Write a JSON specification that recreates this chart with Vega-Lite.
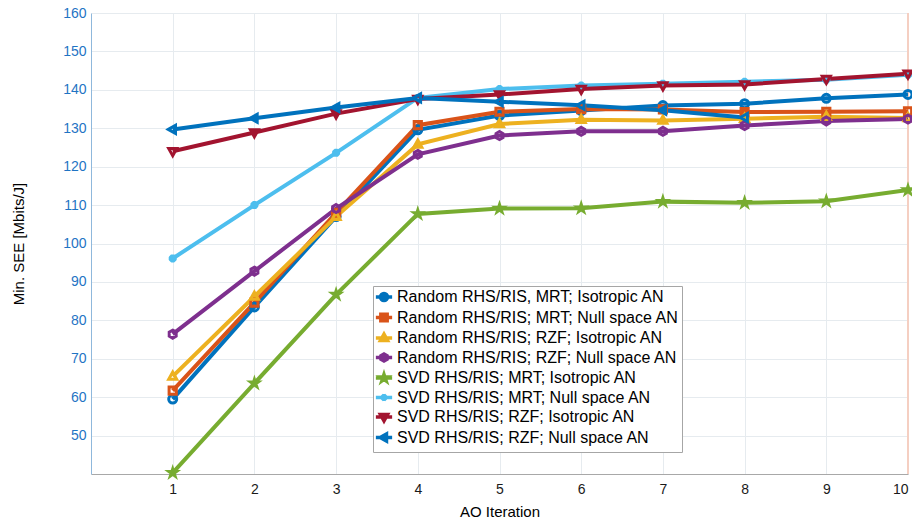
{
  "$schema": "https://vega.github.io/schema/vega-lite/v6.json",
  "width": 817,
  "height": 461,
  "autosize": {"type": "none"},
  "padding": {"left": 91, "top": 13, "right": 4, "bottom": 50},
  "background": "white",
  "config": {
    "view": {"stroke": null},
    "font": "Liberation Sans",
    "axis": {"labelFont": "Liberation Sans", "titleFont": "Liberation Sans", "titleFontWeight": "normal"},
    "legend": {"labelFont": "Liberation Sans"}
  },
  "datasets": {
    "d": [
      {"s": "Random RHS/RIS, MRT; Isotropic AN", "x": 1, "y": 59.5},
      {"s": "Random RHS/RIS, MRT; Isotropic AN", "x": 2, "y": 83.5},
      {"s": "Random RHS/RIS, MRT; Isotropic AN", "x": 3, "y": 107.0},
      {"s": "Random RHS/RIS, MRT; Isotropic AN", "x": 4, "y": 129.6},
      {"s": "Random RHS/RIS, MRT; Isotropic AN", "x": 5, "y": 133.3},
      {"s": "Random RHS/RIS, MRT; Isotropic AN", "x": 6, "y": 134.6},
      {"s": "Random RHS/RIS, MRT; Isotropic AN", "x": 7, "y": 135.9},
      {"s": "Random RHS/RIS, MRT; Isotropic AN", "x": 8, "y": 136.4},
      {"s": "Random RHS/RIS, MRT; Isotropic AN", "x": 9, "y": 137.8},
      {"s": "Random RHS/RIS, MRT; Isotropic AN", "x": 10, "y": 138.8},
      {"s": "Random RHS/RIS; MRT; Null space AN", "x": 1, "y": 61.7},
      {"s": "Random RHS/RIS; MRT; Null space AN", "x": 2, "y": 84.6},
      {"s": "Random RHS/RIS; MRT; Null space AN", "x": 3, "y": 108.0},
      {"s": "Random RHS/RIS; MRT; Null space AN", "x": 4, "y": 130.8},
      {"s": "Random RHS/RIS; MRT; Null space AN", "x": 5, "y": 134.3},
      {"s": "Random RHS/RIS; MRT; Null space AN", "x": 6, "y": 135.0},
      {"s": "Random RHS/RIS; MRT; Null space AN", "x": 7, "y": 134.9},
      {"s": "Random RHS/RIS; MRT; Null space AN", "x": 8, "y": 134.2},
      {"s": "Random RHS/RIS; MRT; Null space AN", "x": 9, "y": 134.3},
      {"s": "Random RHS/RIS; MRT; Null space AN", "x": 10, "y": 134.4},
      {"s": "Random RHS/RIS; RZF; Isotropic AN", "x": 1, "y": 65.4},
      {"s": "Random RHS/RIS; RZF; Isotropic AN", "x": 2, "y": 86.2},
      {"s": "Random RHS/RIS; RZF; Isotropic AN", "x": 3, "y": 107.0},
      {"s": "Random RHS/RIS; RZF; Isotropic AN", "x": 4, "y": 125.8},
      {"s": "Random RHS/RIS; RZF; Isotropic AN", "x": 5, "y": 131.1},
      {"s": "Random RHS/RIS; RZF; Isotropic AN", "x": 6, "y": 132.2},
      {"s": "Random RHS/RIS; RZF; Isotropic AN", "x": 7, "y": 132.0},
      {"s": "Random RHS/RIS; RZF; Isotropic AN", "x": 8, "y": 132.5},
      {"s": "Random RHS/RIS; RZF; Isotropic AN", "x": 9, "y": 133.0},
      {"s": "Random RHS/RIS; RZF; Isotropic AN", "x": 10, "y": 132.7},
      {"s": "Random RHS/RIS; RZF; Null space AN", "x": 1, "y": 76.4},
      {"s": "Random RHS/RIS; RZF; Null space AN", "x": 2, "y": 92.8},
      {"s": "Random RHS/RIS; RZF; Null space AN", "x": 3, "y": 109.1},
      {"s": "Random RHS/RIS; RZF; Null space AN", "x": 4, "y": 123.2},
      {"s": "Random RHS/RIS; RZF; Null space AN", "x": 5, "y": 128.1},
      {"s": "Random RHS/RIS; RZF; Null space AN", "x": 6, "y": 129.2},
      {"s": "Random RHS/RIS; RZF; Null space AN", "x": 7, "y": 129.2},
      {"s": "Random RHS/RIS; RZF; Null space AN", "x": 8, "y": 130.7},
      {"s": "Random RHS/RIS; RZF; Null space AN", "x": 9, "y": 131.9},
      {"s": "Random RHS/RIS; RZF; Null space AN", "x": 10, "y": 132.4},
      {"s": "SVD RHS/RIS; MRT; Isotropic AN", "x": 1, "y": 40.3},
      {"s": "SVD RHS/RIS; MRT; Isotropic AN", "x": 2, "y": 63.6},
      {"s": "SVD RHS/RIS; MRT; Isotropic AN", "x": 3, "y": 86.7},
      {"s": "SVD RHS/RIS; MRT; Isotropic AN", "x": 4, "y": 107.7},
      {"s": "SVD RHS/RIS; MRT; Isotropic AN", "x": 5, "y": 109.1},
      {"s": "SVD RHS/RIS; MRT; Isotropic AN", "x": 6, "y": 109.2},
      {"s": "SVD RHS/RIS; MRT; Isotropic AN", "x": 7, "y": 110.9},
      {"s": "SVD RHS/RIS; MRT; Isotropic AN", "x": 8, "y": 110.6},
      {"s": "SVD RHS/RIS; MRT; Isotropic AN", "x": 9, "y": 111.0},
      {"s": "SVD RHS/RIS; MRT; Isotropic AN", "x": 10, "y": 113.9},
      {"s": "SVD RHS/RIS; MRT; Null space AN", "x": 1, "y": 96.1},
      {"s": "SVD RHS/RIS; MRT; Null space AN", "x": 2, "y": 110.0},
      {"s": "SVD RHS/RIS; MRT; Null space AN", "x": 3, "y": 123.6},
      {"s": "SVD RHS/RIS; MRT; Null space AN", "x": 4, "y": 137.9},
      {"s": "SVD RHS/RIS; MRT; Null space AN", "x": 5, "y": 140.2},
      {"s": "SVD RHS/RIS; MRT; Null space AN", "x": 6, "y": 141.1},
      {"s": "SVD RHS/RIS; MRT; Null space AN", "x": 7, "y": 141.6},
      {"s": "SVD RHS/RIS; MRT; Null space AN", "x": 8, "y": 142.1},
      {"s": "SVD RHS/RIS; MRT; Null space AN", "x": 9, "y": 142.6},
      {"s": "SVD RHS/RIS; MRT; Null space AN", "x": 10, "y": 143.9},
      {"s": "SVD RHS/RIS; RZF; Isotropic AN", "x": 1, "y": 124.0},
      {"s": "SVD RHS/RIS; RZF; Isotropic AN", "x": 2, "y": 128.9},
      {"s": "SVD RHS/RIS; RZF; Isotropic AN", "x": 3, "y": 133.8},
      {"s": "SVD RHS/RIS; RZF; Isotropic AN", "x": 4, "y": 137.6},
      {"s": "SVD RHS/RIS; RZF; Isotropic AN", "x": 5, "y": 138.8},
      {"s": "SVD RHS/RIS; RZF; Isotropic AN", "x": 6, "y": 140.2},
      {"s": "SVD RHS/RIS; RZF; Isotropic AN", "x": 7, "y": 141.1},
      {"s": "SVD RHS/RIS; RZF; Isotropic AN", "x": 8, "y": 141.4},
      {"s": "SVD RHS/RIS; RZF; Isotropic AN", "x": 9, "y": 142.8},
      {"s": "SVD RHS/RIS; RZF; Isotropic AN", "x": 10, "y": 144.2},
      {"s": "SVD RHS/RIS; RZF; Null space AN", "x": 1, "y": 129.7},
      {"s": "SVD RHS/RIS; RZF; Null space AN", "x": 2, "y": 132.6},
      {"s": "SVD RHS/RIS; RZF; Null space AN", "x": 3, "y": 135.4},
      {"s": "SVD RHS/RIS; RZF; Null space AN", "x": 4, "y": 137.9},
      {"s": "SVD RHS/RIS; RZF; Null space AN", "x": 5, "y": 136.9},
      {"s": "SVD RHS/RIS; RZF; Null space AN", "x": 6, "y": 136.0},
      {"s": "SVD RHS/RIS; RZF; Null space AN", "x": 7, "y": 134.7},
      {"s": "SVD RHS/RIS; RZF; Null space AN", "x": 8, "y": 132.8}
    ]
  },
  "data": {"name": "d"},
  "resolve": {"scale": {"color": "independent", "shape": "independent"}},
  "layer": [
    {
      "mark": {"type": "rule", "color": "#f5cfc2", "strokeWidth": 2},
      "encoding": {"x": {"datum": 10, "type": "quantitative", "scale": {"domain": [0, 10]}}}
    },
    {
      "mark": {"type": "line", "strokeWidth": 4, "clip": true},
      "encoding": {
        "x": {
          "field": "x", "type": "quantitative",
          "scale": {"domain": [0, 10], "nice": false, "zero": false},
          "axis": {
            "title": "AO Iteration", "titleFontSize": 15, "titleColor": "#000000",
            "titleBaseline": "middle", "titleY": 37,
            "values": [1, 2, 3, 4, 5, 6, 7, 8, 9, 10], "format": "d",
            "labelFontSize": 14, "labelColor": "#1a1a1a", "labelPadding": 8, "tickSize": 0, "ticks": false,
            "domainColor": "#a8a8a8", "domainWidth": 1,
            "grid": true, "gridColor": "#e6ebef", "gridWidth": 1
          }
        },
        "y": {
          "field": "y", "type": "quantitative",
          "scale": {"domain": [40, 160], "nice": false, "zero": false},
          "axis": {
            "title": "Min. SEE [Mbits/J]", "titleFontSize": 15, "titleColor": "#000000",
            "titleX": -73, "titleY": 230.5, "titleAlign": "center", "titleBaseline": "middle", "titleAngle": -90,
            "values": [50, 60, 70, 80, 90, 100, 110, 120, 130, 140, 150, 160], "format": "d",
            "labelFontSize": 14, "labelColor": "#1f74c4", "labelPadding": 5, "tickSize": 0, "ticks": false,
            "domainColor": "#8fb8dc", "domainWidth": 1,
            "grid": true, "gridColor": "#e6ebef", "gridWidth": 1
          }
        },
        "color": {
          "field": "s", "type": "nominal", "legend": null,
          "scale": {
            "domain": ["Random RHS/RIS, MRT; Isotropic AN", "Random RHS/RIS; MRT; Null space AN", "Random RHS/RIS; RZF; Isotropic AN", "Random RHS/RIS; RZF; Null space AN", "SVD RHS/RIS; MRT; Isotropic AN", "SVD RHS/RIS; MRT; Null space AN", "SVD RHS/RIS; RZF; Isotropic AN", "SVD RHS/RIS; RZF; Null space AN"],
            "range": ["#0072BD", "#D95319", "#EDB120", "#7E2F8E", "#77AC30", "#4DBEEE", "#A2142F", "#0072BD"]
          }
        },
        "order": {"field": "x", "type": "quantitative"}
      }
    },
    {
      "mark": {"type": "point", "filled": false, "strokeWidth": 3, "size": 64, "opacity": 1},
      "encoding": {
        "x": {"field": "x", "type": "quantitative"},
        "y": {"field": "y", "type": "quantitative"},
        "color": {
          "field": "s", "type": "nominal", "legend": null,
          "scale": {
            "domain": ["Random RHS/RIS, MRT; Isotropic AN", "Random RHS/RIS; MRT; Null space AN", "Random RHS/RIS; RZF; Isotropic AN", "Random RHS/RIS; RZF; Null space AN", "SVD RHS/RIS; MRT; Isotropic AN", "SVD RHS/RIS; MRT; Null space AN", "SVD RHS/RIS; RZF; Isotropic AN", "SVD RHS/RIS; RZF; Null space AN"],
            "range": ["#0072BD", "#D95319", "#EDB120", "#7E2F8E", "#77AC30", "#4DBEEE", "#A2142F", "#0072BD"]
          }
        },
        "shape": {
          "field": "s", "type": "nominal", "legend": null,
          "scale": {
            "domain": ["Random RHS/RIS, MRT; Isotropic AN", "Random RHS/RIS; MRT; Null space AN", "Random RHS/RIS; RZF; Isotropic AN", "Random RHS/RIS; RZF; Null space AN", "SVD RHS/RIS; MRT; Isotropic AN", "SVD RHS/RIS; MRT; Null space AN", "SVD RHS/RIS; RZF; Isotropic AN", "SVD RHS/RIS; RZF; Null space AN"],
            "range": [
              "M1,0A1,1,0,1,1,-1,0A1,1,0,1,1,1,0Z",
              "M-0.9,-0.9H0.9V0.9H-0.9Z",
              "M0,-1.1L1,0.7H-1Z",
              "M0,-1L0.87,-0.5V0.5L0,1L-0.87,0.5V-0.5Z",
              "M0,-1L0.224,-0.309L0.951,-0.309L0.363,0.118L0.588,0.809L0,0.382L-0.588,0.809L-0.363,0.118L-0.951,-0.309L-0.224,-0.309Z",
              "M-1,0H1M0,-1V1M-0.7,-0.7L0.7,0.7M-0.7,0.7L0.7,-0.7",
              "M0,1.1L1,-0.7H-1Z",
              "M-1.1,0L0.7,-1V1Z"
            ]
          }
        }
      }
    },
    {
      "mark": {"type": "point", "filled": false, "strokeWidth": 3, "size": 50, "opacity": 0},
      "encoding": {
        "x": {"field": "x", "type": "quantitative"},
        "y": {"field": "y", "type": "quantitative"},
        "color": {
          "field": "s", "type": "nominal",
          "scale": {
            "domain": ["Random RHS/RIS, MRT; Isotropic AN", "Random RHS/RIS; MRT; Null space AN", "Random RHS/RIS; RZF; Isotropic AN", "Random RHS/RIS; RZF; Null space AN", "SVD RHS/RIS; MRT; Isotropic AN", "SVD RHS/RIS; MRT; Null space AN", "SVD RHS/RIS; RZF; Isotropic AN", "SVD RHS/RIS; RZF; Null space AN"],
            "range": ["#0072BD", "#D95319", "#EDB120", "#7E2F8E", "#77AC30", "#4DBEEE", "#A2142F", "#0072BD"]
          },
          "legend": {
            "title": null, "orient": "none", "legendX": 282, "legendY": 273,
            "padding": 3, "rowPadding": -1.5, "symbolSize": 50, "symbolStrokeWidth": 3.5, "symbolOffset": 0,
            "labelFontSize": 16, "labelColor": "#000000", "labelOffset": 5, "labelLimit": 400,
            "fillColor": "#ffffff", "strokeColor": "#a6a6a6", "symbolOpacity": 1
          }
        },
        "shape": {
          "field": "s", "type": "nominal",
          "scale": {
            "domain": ["Random RHS/RIS, MRT; Isotropic AN", "Random RHS/RIS; MRT; Null space AN", "Random RHS/RIS; RZF; Isotropic AN", "Random RHS/RIS; RZF; Null space AN", "SVD RHS/RIS; MRT; Isotropic AN", "SVD RHS/RIS; MRT; Null space AN", "SVD RHS/RIS; RZF; Isotropic AN", "SVD RHS/RIS; RZF; Null space AN"],
            "range": [
              "M-2.3,0H2.3M1,0A1,1,0,1,1,-1,0A1,1,0,1,1,1,0Z",
              "M-2.3,0H2.3M-0.9,-0.9H0.9V0.9H-0.9Z",
              "M-2.3,0H2.3M0,-1.1L1,0.7H-1Z",
              "M-2.3,0H2.3M0,-1L0.87,-0.5V0.5L0,1L-0.87,0.5V-0.5Z",
              "M-2.3,0H2.3M0,-1L0.224,-0.309L0.951,-0.309L0.363,0.118L0.588,0.809L0,0.382L-0.588,0.809L-0.363,0.118L-0.951,-0.309L-0.224,-0.309Z",
              "M-2.3,0H2.3M-1,0H1M0,-1V1M-0.7,-0.7L0.7,0.7M-0.7,0.7L0.7,-0.7",
              "M-2.3,0H2.3M0,1.1L1,-0.7H-1Z",
              "M-2.3,0H2.3M-1.1,0L0.7,-1V1Z"
            ]
          },
          "legend": {
            "title": null, "orient": "none", "legendX": 282, "legendY": 273,
            "padding": 3, "rowPadding": -1.5, "symbolSize": 50, "symbolStrokeWidth": 3.5, "symbolOffset": 0,
            "labelFontSize": 16, "labelColor": "#000000", "labelOffset": 5, "labelLimit": 400,
            "fillColor": "#ffffff", "strokeColor": "#a6a6a6", "symbolOpacity": 1
          }
        }
      }
    }
  ]
}
